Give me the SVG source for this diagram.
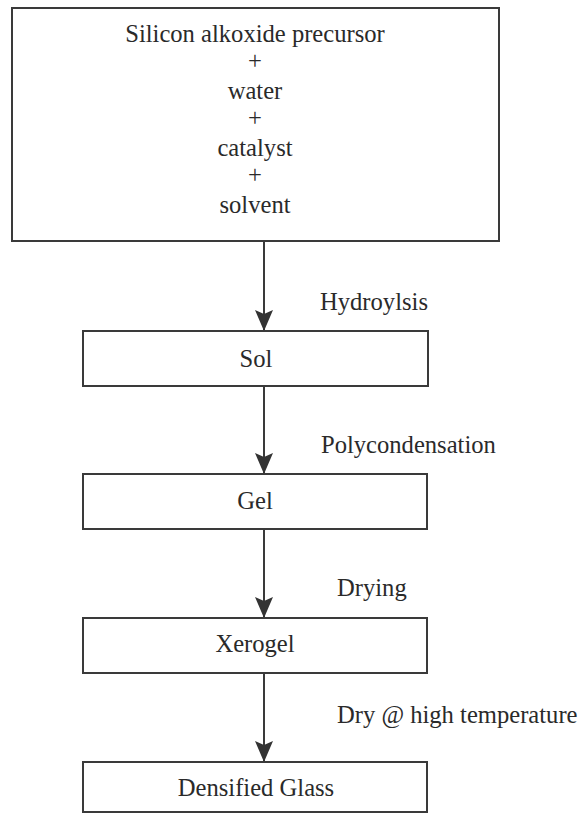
<svg xmlns="http://www.w3.org/2000/svg" width="584" height="816" viewBox="0 0 584 816">
<defs>
<style>
.box{fill:#fff;stroke:#3a3a3a;stroke-width:2}
.t{font-size:24.6px;fill:#2a2a2a}
.c{text-anchor:middle}
.ln{stroke:#3a3a3a;stroke-width:2;fill:none}
</style>
<marker id="ah" viewBox="0 0 21 18" refX="21" refY="9" markerWidth="21" markerHeight="18" markerUnits="userSpaceOnUse" orient="auto">
<path d="M0,0 L4,9 L0,18 L21,9 Z" fill="#333"/>
</marker>
</defs>
<rect width="584" height="816" fill="#fff"/>
<g font-family="'Liberation Serif', 'Times New Roman', Times, serif">
<g id="connectors">
<path class="ln" d="M264,241 V331" marker-end="url(#ah)"/>
<path class="ln" d="M264,386 V474" marker-end="url(#ah)"/>
<path class="ln" d="M264,529 V618" marker-end="url(#ah)"/>
<path class="ln" d="M264,673 V762" marker-end="url(#ah)"/>
<text class="t" x="320" y="310">Hydroylsis</text>
<text class="t" x="321" y="453">Polycondensation</text>
<text class="t" x="337" y="596">Drying</text>
<text class="t" x="337" y="723">Dry @ high temperature</text>
</g>
<g id="precursors">
<rect class="box" x="12" y="8" width="487" height="233"/>
<text class="t c" x="255" y="42">Silicon alkoxide precursor</text>
<text class="t c" x="255" y="69">+</text>
<text class="t c" x="255" y="99">water</text>
<text class="t c" x="255" y="126">+</text>
<text class="t c" x="255" y="156">catalyst</text>
<text class="t c" x="255" y="183">+</text>
<text class="t c" x="255" y="213">solvent</text>
</g>
<g id="sol">
<rect class="box" x="83" y="331" width="345" height="55"/>
<text class="t c" x="256" y="367">Sol</text>
</g>
<g id="gel">
<rect class="box" x="83" y="474" width="344" height="55"/>
<text class="t c" x="255" y="509">Gel</text>
</g>
<g id="xerogel">
<rect class="box" x="83" y="618" width="344" height="55"/>
<text class="t c" x="255" y="652">Xerogel</text>
</g>
<g id="glass">
<rect class="box" x="83" y="762" width="344" height="50"/>
<text class="t c" x="256" y="796">Densified Glass</text>
</g>
</g>
</svg>
